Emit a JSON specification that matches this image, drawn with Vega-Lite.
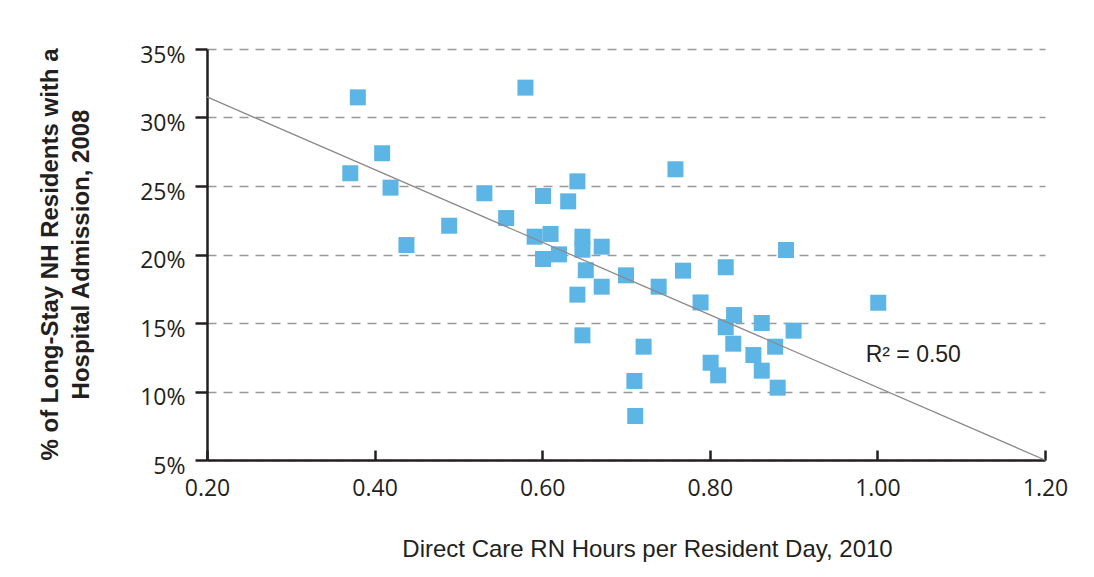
{
  "$schema": "https://vega.github.io/schema/vega-lite/v6.json",
  "width": 838,
  "height": 411,
  "autosize": {"type": "none"},
  "padding": {"left": 207, "top": 49, "right": 49, "bottom": 117},
  "background": "white",
  "config": {"view": {"stroke": null}, "font": "Liberation Sans"},
  "datasets": {
    "points": [
      {"hours": 0.380, "pct": 31.47},
      {"hours": 0.580, "pct": 32.18},
      {"hours": 0.409, "pct": 27.39},
      {"hours": 0.371, "pct": 25.93},
      {"hours": 0.419, "pct": 24.88},
      {"hours": 0.531, "pct": 24.47},
      {"hours": 0.601, "pct": 24.27},
      {"hours": 0.631, "pct": 23.88},
      {"hours": 0.557, "pct": 22.66},
      {"hours": 0.489, "pct": 22.10},
      {"hours": 0.438, "pct": 20.69},
      {"hours": 0.591, "pct": 21.30},
      {"hours": 0.610, "pct": 21.50},
      {"hours": 0.601, "pct": 19.67},
      {"hours": 0.620, "pct": 20.01},
      {"hours": 0.759, "pct": 26.22},
      {"hours": 0.642, "pct": 25.34},
      {"hours": 0.648, "pct": 21.30},
      {"hours": 0.648, "pct": 20.35},
      {"hours": 0.671, "pct": 20.57},
      {"hours": 0.652, "pct": 18.85},
      {"hours": 0.700, "pct": 18.48},
      {"hours": 0.671, "pct": 17.65},
      {"hours": 0.642, "pct": 17.07},
      {"hours": 0.739, "pct": 17.65},
      {"hours": 0.768, "pct": 18.82},
      {"hours": 0.789, "pct": 16.50},
      {"hours": 0.648, "pct": 14.10},
      {"hours": 0.721, "pct": 13.27},
      {"hours": 0.710, "pct": 10.77},
      {"hours": 0.711, "pct": 8.21},
      {"hours": 0.891, "pct": 20.33},
      {"hours": 0.819, "pct": 19.07},
      {"hours": 0.829, "pct": 15.58},
      {"hours": 0.819, "pct": 14.69},
      {"hours": 0.862, "pct": 15.00},
      {"hours": 0.900, "pct": 14.44},
      {"hours": 0.828, "pct": 13.49},
      {"hours": 0.878, "pct": 13.27},
      {"hours": 0.852, "pct": 12.66},
      {"hours": 0.801, "pct": 12.10},
      {"hours": 0.862, "pct": 11.52},
      {"hours": 0.810, "pct": 11.18},
      {"hours": 0.881, "pct": 10.28},
      {"hours": 1.001, "pct": 16.48}
    ],
    "fit": [
      {"hours": 0.2, "pct": 31.5},
      {"hours": 1.2, "pct": 5.0}
    ],
    "note": [
      {"hours": 0.986, "pct": 12.66, "label": "R² = 0.50"}
    ]
  },
  "layer": [
    {
      "data": {"name": "points"},
      "mark": {"type": "square", "size": 256, "color": "#5DB5E5", "filled": true, "opacity": 1},
      "encoding": {
        "x": {
          "field": "hours",
          "type": "quantitative",
          "scale": {"domain": [0.2, 1.2], "nice": false, "zero": false},
          "axis": {
            "values": [0.2, 0.4, 0.6, 0.8, 1.0, 1.2],
            "format": ".2f",
            "grid": false,
            "labelFlush": false,
            "domainColor": "#231f20",
            "domainWidth": 2.5,
            "tickColor": "#231f20",
            "tickWidth": 2.5,
            "tickSize": -10,
            "labelFont": "Open Sans",
            "labelFontSize": 23,
            "labelColor": "#231f20",
            "labelPadding": 27,
            "title": "Direct Care RN Hours per Resident Day, 2010",
            "titleFont": "Liberation Sans",
            "titleFontSize": 24,
            "titleFontWeight": "normal",
            "titleColor": "#231f20",
            "titleX": 440,
            "titleY": 89,
            "titleAlign": "center",
            "titleBaseline": "middle"
          }
        },
        "y": {
          "field": "pct",
          "type": "quantitative",
          "scale": {"domain": [5, 35], "nice": false, "zero": false},
          "axis": {
            "values": [5, 10, 15, 20, 25, 30, 35],
            "labelExpr": "datum.value + '%'",
            "labelFlush": false,
            "grid": true,
            "gridDash": [9, 7],
            "gridColor": "#999999",
            "gridWidth": 1.5,
            "domainColor": "#231f20",
            "domainWidth": 2.5,
            "tickColor": "#231f20",
            "tickWidth": 2.5,
            "tickSize": 12,
            "labelPadding": 10,
            "labelOffset": 6,
            "labelFont": "Open Sans",
            "labelFontSize": 23,
            "labelColor": "#231f20",
            "title": ["% of Long-Stay NH Residents with a", "Hospital Admission, 2008"],
            "titleFont": "Liberation Sans",
            "titleFontSize": 24,
            "titleFontWeight": "bold",
            "titleColor": "#231f20",
            "titleLineHeight": 31,
            "titleX": -157,
            "titleY": 205,
            "titleAngle": -90,
            "titleAlign": "center",
            "titleBaseline": "middle"
          }
        }
      }
    },
    {
      "data": {"name": "fit"},
      "mark": {"type": "line", "color": "#8a8a8a", "strokeWidth": 1.3},
      "encoding": {
        "x": {"field": "hours", "type": "quantitative"},
        "y": {"field": "pct", "type": "quantitative"}
      }
    },
    {
      "data": {"name": "note"},
      "mark": {"type": "text", "align": "left", "baseline": "middle", "fontSize": 23, "font": "Liberation Sans", "color": "#231f20"},
      "encoding": {
        "x": {"field": "hours", "type": "quantitative"},
        "y": {"field": "pct", "type": "quantitative"},
        "text": {"field": "label"}
      }
    }
  ]
}
